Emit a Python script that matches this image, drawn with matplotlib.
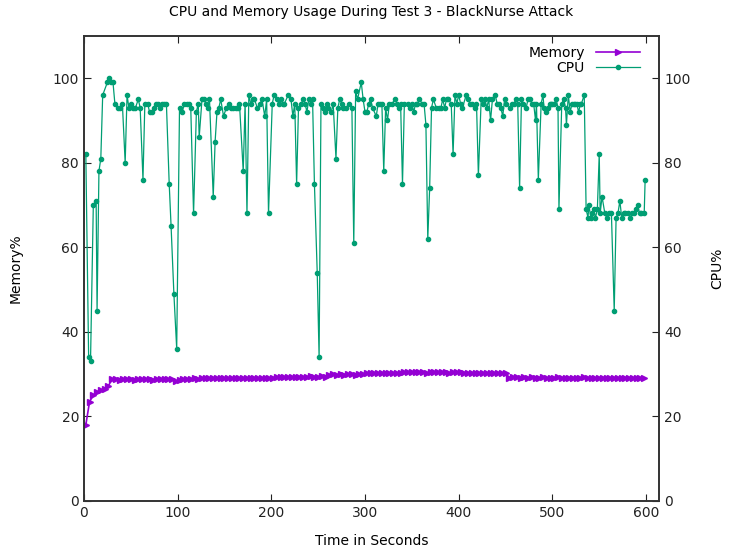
import numpy as np
import matplotlib
matplotlib.use("Agg")
from matplotlib import pyplot as plt

# CPU samples (seconds, percent)
cpu_time = [2, 5, 7, 10, 13, 14, 16, 18, 20, 25, 27, 29, 31, 33,
            36, 38, 41, 44, 46, 48, 50, 52, 55, 58, 60, 63, 65, 68, 70, 73, 75, 77, 79, 81, 83, 85, 88,
            91, 93, 96, 99, 102, 105, 107, 110, 112, 114, 117, 120, 122, 123, 126, 128, 130, 132, 134, 138,
            140, 142, 144, 146, 149,
            152, 155, 157, 159, 162, 164, 166, 170, 172, 174, 176, 178, 180, 182, 185, 188, 190, 193, 195, 197,
            201, 203, 206, 208, 210, 212, 214, 218, 221, 223, 225, 227, 229, 232, 234, 236, 238, 240, 242, 244,
            246, 249, 251, 253, 255, 257, 259, 261, 264, 266, 269, 271, 273, 275, 277, 280, 283, 286, 288, 290,
            292, 296, 298, 300, 302, 304, 306, 308, 312, 314, 316, 318, 320, 322, 324, 326, 329, 332, 334, 336,
            338, 340, 342, 346, 348, 350, 352, 354, 356, 358, 361, 363, 365, 367, 369, 371, 373, 376, 379, 381,
            383, 385, 387, 389, 392, 394, 396, 398, 400, 402, 404, 408, 410, 412, 414, 417, 419, 421, 424, 426,
            428, 430, 432, 434, 436, 439, 441, 443, 445, 447, 449, 451, 455, 457, 459, 461, 463, 465, 467, 469,
            472, 474, 476, 478, 480, 482, 483, 485, 488, 490, 491, 493, 495, 497, 499, 500, 502, 504, 506,
            507, 510, 512, 514, 515, 517, 519, 521, 523, 524, 526, 528, 530, 531, 534, 536, 538, 539, 541, 542,
            544, 546, 548, 550, 551, 553, 556, 558, 560, 563, 566, 568, 570, 572, 574, 576, 578, 581, 583, 585,
            587, 589, 591, 593, 595, 598, 599]
cpu_usage = [82, 34, 33, 70, 71, 45, 78, 81, 96, 99, 100, 99, 99, 94,
             93, 93, 94, 80, 96, 93, 94, 93, 93, 95, 93, 76, 94, 94, 92, 92, 93, 94, 94, 93, 94, 94, 94,
             75, 65, 49, 36, 93, 92, 94, 94, 94, 93, 68, 92, 94, 86, 95, 95, 94, 93, 95, 72,
             85, 92, 93, 95, 91,
             93, 94, 93, 93, 93, 93, 94, 78, 94, 68, 96, 94, 95, 95, 93, 94, 95, 91, 95, 68,
             94, 96, 95, 94, 95, 94, 94, 96, 95, 91, 94, 75, 93, 94, 95, 94, 92, 95, 94, 95,
             75, 54, 34, 94, 93, 92, 94, 93, 92, 94, 81, 93, 95, 94, 93, 93, 94, 93, 61, 97,
             95, 99, 95, 92, 92, 94, 95, 93, 91, 94, 94, 94, 78, 93, 90, 94, 94, 95, 94, 93,
             94, 75, 94, 94, 93, 94, 92, 94, 94, 95, 94, 94, 89, 62, 74, 93, 95, 93, 93, 93,
             95, 93, 95, 95, 94, 82, 96, 94, 96, 94, 93, 96, 95, 94, 94, 93, 94, 77, 95, 94,
             95, 93, 95, 90, 95, 96, 94, 94, 93, 91, 95, 94, 93, 94, 94, 95, 94, 74, 95, 94,
             93, 95, 95, 94, 94, 90, 94, 76, 94, 96, 93, 92, 93, 94, 94, 94, 94, 95, 93,
             69, 94, 95, 93, 89, 96, 92, 94, 94, 94, 94, 92, 94, 94, 96, 69, 67, 70, 67, 68,
             69, 67, 69, 82, 68, 72, 68, 67, 68, 68, 45, 67, 68, 71, 67, 68, 68, 68, 67, 68,
             68, 69, 70, 68, 68, 68, 76]

# Memory sampled every 4 s from t=2
mem_time = np.arange(2, 599, 4)
mem_usage = [18.0, 23.5, 25.0, 25.8, 26.2, 26.5, 27.2, 28.8,
             28.9, 28.7, 28.8, 28.9, 28.8, 28.7, 28.8, 28.9, 28.8, 28.8, 28.7, 28.9, 28.8, 28.8, 28.9, 28.8,
             28.4, 28.5,
             28.8, 28.9, 28.9, 29.0, 28.9, 29.0, 29.0, 29.1, 29.0, 29.0, 29.1, 29.0, 29.1, 29.0, 29.1, 29.1,
             29.0, 29.1, 29.1, 29.2, 29.1, 29.1, 29.2, 29.1, 29.2, 29.3, 29.4, 29.3, 29.4, 29.3, 29.4, 29.4,
             29.3, 29.4, 29.5, 29.4, 29.4, 29.5, 29.4,
             29.9, 30.0, 29.9, 30.0, 29.9, 30.0, 30.0, 29.9, 30.0, 30.1,
             30.2, 30.3, 30.2, 30.2, 30.3, 30.2, 30.2, 30.3, 30.2, 30.2,
             30.4, 30.5, 30.4, 30.4, 30.5, 30.4, 30.3, 30.4, 30.4, 30.5, 30.4, 30.4, 30.3, 30.4,
             30.5, 30.4, 30.2, 30.2, 30.3, 30.2, 30.2, 30.3, 30.2, 30.2, 30.3, 30.2, 30.3, 30.2,
             29.2, 29.3, 29.3, 29.2, 29.3, 29.2, 29.3, 29.2, 29.2, 29.3, 29.1, 29.2, 29.2, 29.3, 29.2,
             29.1, 29.2, 29.2, 29.1, 29.2, 29.3, 29.2, 29.2, 29.1, 29.2, 29.2, 29.1, 29.2, 29.2, 29.2,
             29.1, 29.2, 29.2, 29.1, 29.2, 29.2, 29.1]

x_ticks = [0, 100, 200, 300, 400, 500, 600]
y_ticks = [0, 20, 40, 60, 80, 100]

mem_color = "#9400D3"
cpu_color = "#009E73"

fig = plt.figure(figsize=(7.3, 5.52), dpi=100)
ax = fig.add_axes([0.115, 0.0924, 0.788, 0.8426])

ax.plot(mem_time, mem_usage, color=mem_color, lw=1.2, marker=">", ms=4.5, label="Memory")
ax.plot(cpu_time, cpu_usage, color=cpu_color, lw=0.9, marker="o", ms=3, label="CPU")

ax.set_xlim(0, 614)
ax.set_ylim(0, 110)
ax.set_xticks(x_ticks)
ax.set_yticks(y_ticks)
ax.tick_params(direction="in", length=5, top=True, labelsize=10, colors="#222222")
ax.set_xlabel("Time in Seconds", fontsize=10, labelpad=10)
ax.set_ylabel("Memory%", fontsize=10, labelpad=22)
ax.set_title("CPU and Memory Usage During Test 3 - BlackNurse Attack", fontsize=10, pad=14)

ax2 = ax.twinx()
ax2.set_ylim(0, 110)
ax2.set_yticks(y_ticks)
ax2.tick_params(direction="in", length=5, labelsize=10, colors="#222222")
ax2.set_ylabel("CPU%", fontsize=10, labelpad=14)

for a in (ax, ax2):
    for s in a.spines.values():
        s.set_linewidth(1.2)
        s.set_color("#333333")

leg = ax.legend(loc="upper right", bbox_to_anchor=(0.984, 1.0), frameon=False,
                markerfirst=False, fontsize=10, handlelength=3.2,
                borderaxespad=0.3, labelspacing=0.1)

fig.savefig("out.png", dpi=100)
